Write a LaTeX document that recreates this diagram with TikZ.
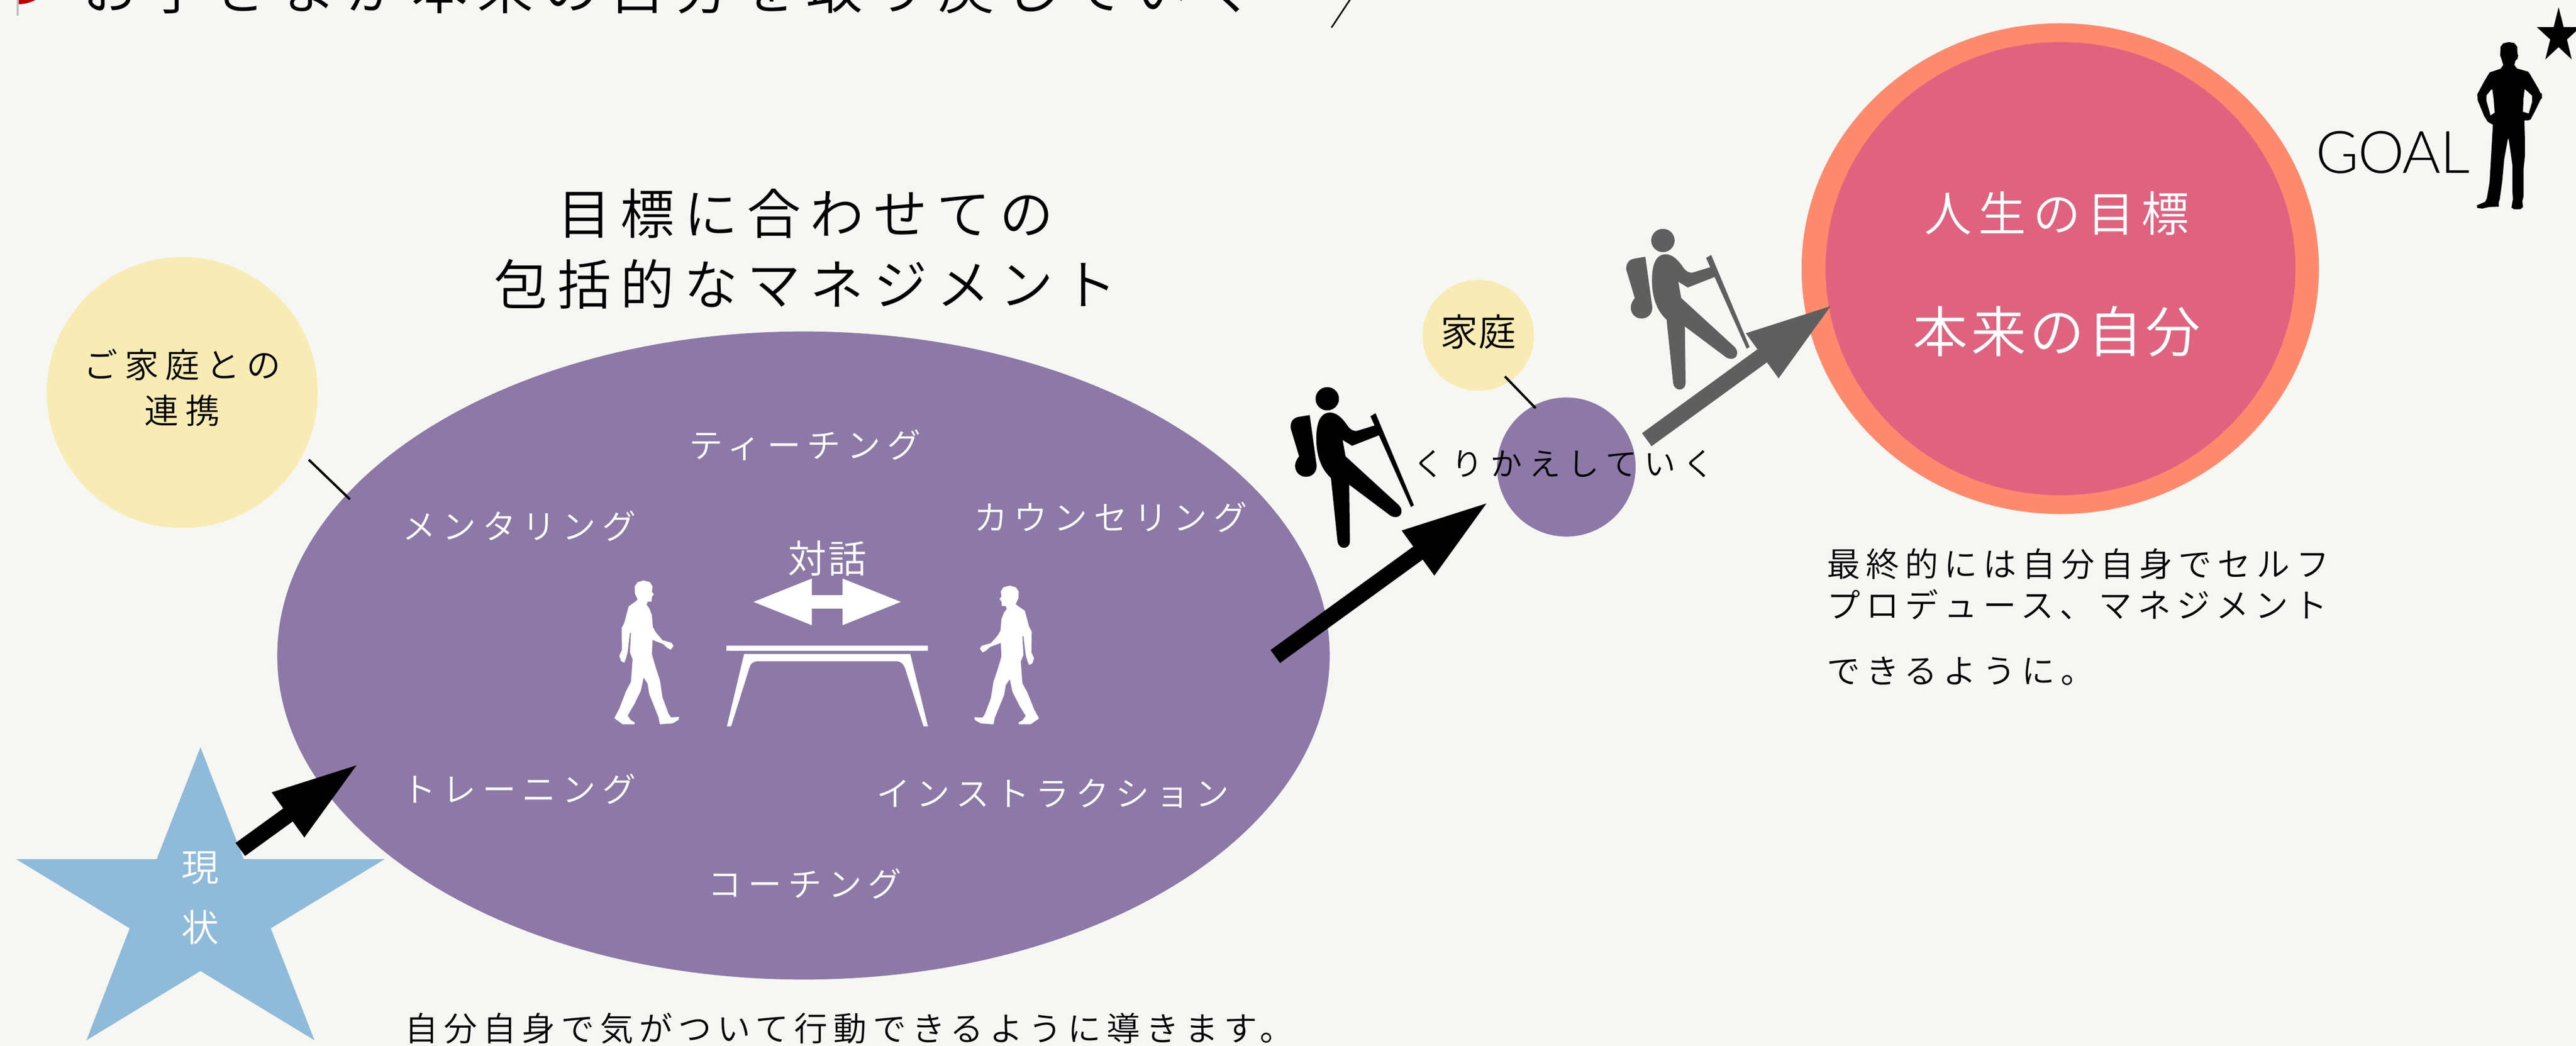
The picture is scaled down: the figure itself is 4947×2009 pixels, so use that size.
\documentclass[tikz,border=0pt]{standalone}
\usepackage{fontspec}
\usetikzlibrary{shapes.geometric,arrows.meta}
\newfontfamily\jp{Noto Sans CJK JP DemiLight}
\newfontfamily\latinf{Lato Light}
\definecolor{bgc}{HTML}{F6F7F3}
\definecolor{purplec}{HTML}{8C79A7}
\definecolor{creamc}{HTML}{F8EBB3}
\definecolor{orangec}{HTML}{FE8A6E}
\definecolor{pinkc}{HTML}{DF637F}
\definecolor{bluec}{HTML}{8FBAD9}
\definecolor{grayc}{HTML}{5F5F5F}
\newcommand\jf[3]{\jp\addfontfeature{LetterSpace=#3}\fontsize{#1}{#2}\selectfont}
\newcommand\hikerpaths{%
 (212,818) ellipse [x radius=32,y radius=50]
 (218,877) .. controls (190,880) and (182,930) .. (182,990) .. controls (182,1060) and (195,1120) .. (222,1158) -- (240,1430) .. controls (242,1450) and (250,1458) .. (257,1458) .. controls (268,1458) and (274,1445) .. (274,1430) -- (272,1187) -- (385,1320) .. controls (395,1330) and (415,1330) .. (415,1300) .. controls (415,1290) and (412,1283) .. (408,1275) -- (262,1065) -- (254,995) -- (280,1020) -- (353,975) -- (341,933) -- (295,955) .. controls (285,960) and (275,950) .. (268,935) .. controls (255,905) and (240,877) .. (218,877) -- cycle
 (164,888) -- (183,1105) .. controls (183,1135) and (170,1153) .. (154,1153) .. controls (135,1153) and (124,1130) .. (124,1105) .. controls (124,1090) and (130,1075) .. (135,1065) -- (112,945) .. controls (110,920) and (118,900) .. (133,896) -- cycle
 (330,893) -- (344,880) -- (449,1275) -- (441,1283) -- cycle}
\newcommand\walkerpath{%
 (213,345) -- (232,355) -- (240,380) -- (238,410) -- (244,425) -- (238,440) -- (237,467) -- (225,468) -- (222,485) -- (230,505) -- (238,545) -- (241,615) -- (250,645) -- (270,690) -- (285,698) -- (297,705) -- (303,722) -- (295,745) -- (285,735) -- (272,712) -- (240,688) -- (238,770) -- (250,850) -- (262,920) -- (270,1020) -- (288,1115) -- (295,1135) -- (320,1133) -- (318,1150) -- (300,1170) -- (262,1175) -- (258,1135) -- (230,1000) -- (225,940) -- (213,905) -- (205,980) -- (185,1060) -- (165,1125) -- (175,1152) -- (187,1165) -- (185,1175) -- (150,1175) -- (125,1140) -- (140,1085) -- (160,985) -- (175,930) -- (180,800) -- (172,760) -- (175,650) -- (172,645) -- (165,760) -- (160,795) -- (155,820) -- (145,810) -- (140,780) -- (148,745) -- (147,620) -- (155,590) -- (168,495) -- (190,465) -- (195,455) -- (187,420) -- (186,380) -- (195,355) -- cycle}
\tikzset{
 txt/.style={inner sep=0pt,outer sep=0pt},
 bodytxt/.style={txt,font=\jf{18.25}{22.5}{17}},
 whitetxt/.style={txt,text=white,font=\jf{18.5}{22.5}{18}},
 disc/.style={ellipse,inner sep=0pt,outer sep=0pt,draw=none},
 tie/.style={black,line width=0.045cm},
 bigarrow/.style={line width=0.31cm,line cap=butt,-{Triangle[length=1.69cm,width=0.97cm]}},
 twoarrow/.style={line width=0.26cm,line cap=butt,{Triangle[length=1.165cm,width=0.81cm]}-{Triangle[length=1.165cm,width=0.81cm]}},
}
\begin{document}
\begin{tikzpicture}[x=0.01cm,y=-0.01cm]
\useasboundingbox (0,0) rectangle (4947,2009);
\clip (0,0) rectangle (4947,2009);
\fill[bgc] (0,0) rectangle (4947,2009);
% top title (cut by the page edge)
\fill[gray!50] (32,-5) rectangle (36,30);
\fill[red!75!black] (36,-5) -- (75,-5) .. controls (66,3) and (50,8) .. (36,8) -- cycle;
\node[txt,font=\jf{30.7}{36}{17}] (toptitle) at (1285,-24) {お子さまが本来の自分を取り戻していく};
\coordinate (bracketA) at (2612,-30);
\coordinate (bracketB) at (2557,53);
\draw[black,line width=0.03cm] (bracketA) -- (bracketB);
% left part
\node[disc,fill=purplec,minimum width=20.2cm,minimum height=12.44cm] (mainell) at (1543,1259) {};
\node[disc,fill=creamc,minimum width=5.2cm,minimum height=5.2cm] (familyA) at (350,754) {};
\node[txt,align=center,font=\jf{18.7}{25}{19}] (familyAtxt) at (350,745) {ご家庭との\\連携};
\coordinate (tieA1) at (593,883);
\coordinate (tieA2) at (672,959);
\draw[tie] (tieA1) -- (tieA2);
\node[txt,align=center,font=\jf{29.5}{38.7}{17}] (maintitle) at (1547,478) {目標に合わせての\\包括的なマネジメント};
\node[whitetxt] (t1) at (1546,855) {ティーチング};
\node[whitetxt] (t2) at (997,1010) {メンタリング};
\node[whitetxt] (t3) at (2133,993) {カウンセリング};
\node[whitetxt] (t4) at (997,1515) {トレーニング};
\node[whitetxt] (t5) at (2022,1524) {インストラクション};
\node[whitetxt] (t6) at (1546,1697) {コーチング};
\node[txt,text=white,font=\jf{21}{24}{4}] (dialog) at (1589,1072) {対話};
\coordinate (dblA) at (1442.5,1156);
\coordinate (dblB) at (1734.6,1156);
\draw[twoarrow,white] (dblA) -- (dblB);
% table
\fill[white] (1395,1240) rectangle (1782,1250);
\fill[white] (1429,1256) -- (1748,1256) -- (1782,1395) -- (1773.5,1395) -- (1738,1283) .. controls (1735,1275) and (1729,1270) .. (1722,1270) -- (1454,1270) .. controls (1447,1270) and (1441,1275) .. (1439,1283) -- (1404,1395) -- (1396,1395) -- cycle;
% walkers
\begin{scope}[shift={(1100,1000)},x=0.006378cm,y=-0.003333cm]
\fill[white] \walkerpath;
\begin{scope}[shift={(1528,1175)},xscale=-1,yscale=0.964,shift={(0,-1175)}]
\fill[white] \walkerpath;
\end{scope}
\end{scope}
% star
\fill[bluec] (385,1435) -- (468,1650) -- (739,1650) -- (520,1783) -- (604,1998) -- (385,1865) -- (166,1998) -- (249,1783) -- (31,1650) -- (301,1650) -- cycle;
\node[txt,align=center,text=white,font=\jf{20.5}{33}{0}] (nowtxt) at (385,1725) {現\\状};
\coordinate (smA) at (461.5,1631.5);
\coordinate (smB) at (690,1466);
\draw[bigarrow,black] (smA) -- (smB);
\node[bodytxt,anchor=west] (bottomtxt) at (777,1975) {自分自身で気がついて行動できるように導きます。};
% middle
\node[disc,fill=purplec,minimum width=2.66cm,minimum height=2.67cm] (midc) at (3008,897) {};
\node[disc,fill=creamc,minimum width=2.14cm,minimum height=2.13cm] (familyB) at (2839,644) {};
\node[txt,font=\jf{20.5}{24}{0}] (familyBtxt) at (2839,637) {家庭};
\coordinate (tieB1) at (2890,723);
\coordinate (tieB2) at (2949,784);
\draw[tie] (tieB1) -- (tieB2);
\node[txt,font=\jf{17.3}{20}{22}] (repeat) at (3003,891) {くりかえしていく};
\begin{scope}[shift={(2400,400)},x=0.007018cm,y=-0.004464cm]
\fill[black] \hikerpaths;
\end{scope}
\begin{scope}[shift={(3044.6,96)},x=0.007018cm,y=-0.004464cm]
\fill[grayc] \hikerpaths;
\end{scope}
\coordinate (bgA) at (2449,1261);
\coordinate (bgB) at (2860,963);
\draw[bigarrow,black] (bgA) -- (bgB);
% goal
\node[disc,fill=orangec,minimum width=9.93cm,minimum height=9.42cm] (goalouter) at (3956.5,516) {};
\node[disc,fill=pinkc,minimum width=9.02cm,minimum height=8.70cm] (goalinner) at (3957,516) {};
\node[txt,text=white,font=\jf{26}{30}{14}] (life) at (3950,410) {人生の目標};
\node[txt,text=white,font=\jf{30}{36}{6}] (self) at (3950,637) {本来の自分};
\coordinate (grA) at (3162.5,844.5);
\coordinate (grB) at (3521,584);
\draw[bigarrow,grayc] (grA) -- (grB);
\node[bodytxt,anchor=north west,align=left] (rightpara) at (3508,1053) {最終的には自分自身でセルフ\\プロデュース、マネジメント\\[13.3pt]できるように。};
\node[txt,font={\latinf\addfontfeature{LetterSpace=-1.5}\fontsize{32}{36}\selectfont}] (goaltxt) at (4595,293) {GOAL};
\begin{scope}[shift={(4400,0)},x=0.003489cm,y=-0.003333cm]
\fill[black,even odd rule] (1195,243) -- (1225,248) -- (1242,270) -- (1243,310) -- (1247,320) -- (1243,340) -- (1232,350) -- (1226,375) -- (1240,395) -- (1300,413) -- (1310,425) -- (1360,515) -- (1368,535) -- (1377,540) -- (1378,565) -- (1370,575) -- (1340,640) -- (1315,690) -- (1300,695) -- (1281,695) -- (1284,800) -- (1284,900) -- (1277,970) -- (1277,1130) -- (1270,1160) -- (1273,1195) -- (1260,1207) -- (1225,1208) -- (1210,1198) -- (1218,1150) -- (1215,1100) -- (1215,950) -- (1195,803) -- (1190,803) -- (1170,920) -- (1160,1040) -- (1145,1155) -- (1140,1165) -- (1140,1193) -- (1085,1195) -- (1050,1204) -- (1022,1200) -- (1020,1185) -- (1065,1165) -- (1075,1145) -- (1090,1050) -- (1108,720) -- (1080,703) -- (1060,670) -- (1025,580) -- (1022,545) -- (1060,470) -- (1090,418) -- (1150,397) -- (1165,375) -- (1155,340) -- (1148,320) -- (1150,270) -- (1165,250) -- cycle
 (1105,515) -- (1112,570) -- (1118,650) -- (1095,667) -- (1072,580) -- (1073,550) -- (1098,518) -- cycle
 (1285,515) -- (1323,552) -- (1323,590) -- (1305,655) -- (1273,645) -- (1276,570) -- (1282,518) -- cycle;
\fill[black] (1469,42) -- (1497,157) -- (1588,157) -- (1515,228) -- (1541,343) -- (1469,272) -- (1396,343) -- (1423,228) -- (1350,157) -- (1442,157) -- cycle;
\end{scope}
\end{tikzpicture}
\end{document}
